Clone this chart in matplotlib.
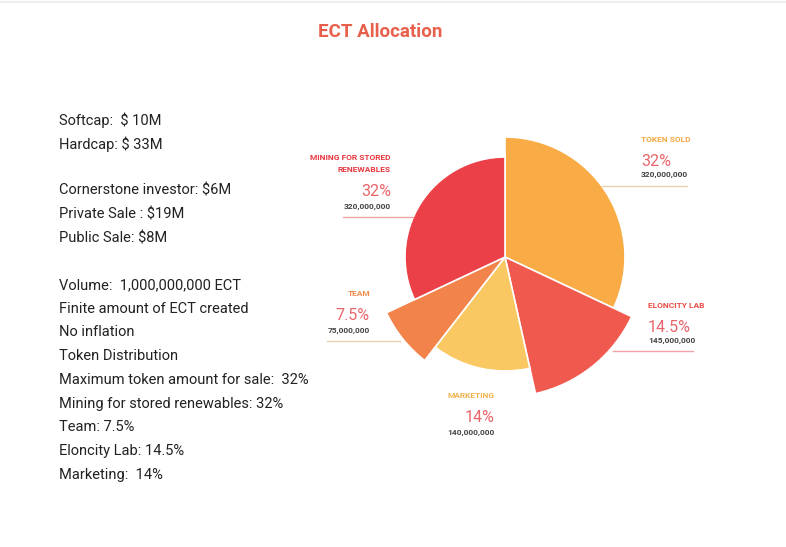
import matplotlib
matplotlib.use("Agg")
import matplotlib.pyplot as plt
import numpy as np
from matplotlib.lines import Line2D

W, H = 786, 547
categories = ["TOKEN SOLD", "ELONCITY LAB", "MARKETING", "TEAM", "MINING FOR STORED\nRENEWABLES"]
shares = [32, 14.5, 14, 7.5, 32]
amounts = ["320,000,000", "145,000,000", "140,000,000", "75,000,000", "320,000,000"]
pct_labels = ["32%", "14.5%", "14%", "7.5%", "32%"]
radii = [120, 140, 114, 131, 100]
colors = ["#F9AC45", "#F05A4E", "#F9C862", "#F2834A", "#EC4048"]
label_colors = ["#F5A843", "#EB4B45", "#F2B24E", "#F08A4B", "#E8383F"]

info_lines = [
    ("Softcap:  $ 10M", 120), ("Hardcap: $ 33M", 144),
    ("Cornerstone investor: $6M", 190), ("Private Sale : $19M", 214), ("Public Sale: $8M", 238),
    ("Volume:  1,000,000,000 ECT", 285), ("Finite amount of ECT created", 309),
    ("No inflation", 332), ("Token Distribution", 356),
    ("Maximum token amount for sale:  32%", 380), ("Mining for stored renewables: 32%", 404),
    ("Team: 7.5%", 427), ("Eloncity Lab: 14.5%", 451), ("Marketing:  14%", 475),
]

FONT = ["Roboto", "DejaVu Sans"]
plt.rcParams["font.family"] = FONT

fig = plt.figure(figsize=(W / 100, H / 100), dpi=100)
fig.patch.set_facecolor("white")

def fx(x):
    return x / W

def fy(y):
    return 1 - y / H

# polar pie
cx, cy, RM = 505, 257, 150
ax = fig.add_axes([fx(cx - RM), fy(cy + RM), 2 * RM / W, 2 * RM / H], projection="polar")
ax.set_theta_zero_location("N")
ax.set_theta_direction(-1)
fr = np.array(shares) / sum(shares)
widths = fr * 2 * np.pi
starts = np.concatenate([[0], np.cumsum(widths)[:-1]])
ax.bar(starts, radii, width=widths, align="edge", color=colors, edgecolor="white", linewidth=1.2)
ax.set_ylim(0, RM)
ax.set_axis_off()

# annotation blocks: (x, y_label, y_pct, y_amount, ha, line_y, line_x0, line_x1)
ann = [
    (641, [139], 161, 175, "left", 186, 602, 687),
    (648, [305], 327, 341, "left", 351, 613, 693),
    (495, [396], 417, 433, "right", None, None, None),
    (370, [293], 315, 331, "right", 341, 327, 400),
    (391, [158, 170], 192, 207, "right", 217, 343, 413),
]
line_colors = ["#E8D2AE", "#EFA3A5", None, "#E8D2AE", "#EFA3A5"]
for i, (x, ylab, ypct, yamt, ha, ly, lx0, lx1) in enumerate(ann):
    for j, part in enumerate(categories[i].split("\n")):
        fig.text(fx(x), fy(ylab[j]), part, ha=ha, va="center", fontsize=6,
                 fontweight="bold", color=label_colors[i])
    fig.text(fx(x), fy(ypct), pct_labels[i], ha=ha, va="center", fontsize=11.5,
             color="#E8666B")
    fig.text(fx(x), fy(yamt), amounts[i], ha=ha, va="center", fontsize=6,
             fontweight="bold", color="#444444")
    if ly is not None:
        fig.add_artist(Line2D([fx(lx0), fx(lx1)], [fy(ly), fy(ly)], color=line_colors[i],
                              linewidth=1.0, transform=fig.transFigure))

# title
fig.text(fx(380), fy(32), "ECT Allocation", ha="center", va="center", fontsize=13.5,
         fontweight="bold", color="#E8604C")

# left info text
for txt, y in info_lines:
    fig.text(fx(59), fy(y), txt, ha="left", va="center", fontsize=10.5, color="#222222")

# faint top border
fig.add_artist(Line2D([0, 1], [fy(2), fy(2)], color="#EEEEEE", linewidth=1.5,
                      transform=fig.transFigure))

fig.savefig("out.png", dpi=100, facecolor="white")
